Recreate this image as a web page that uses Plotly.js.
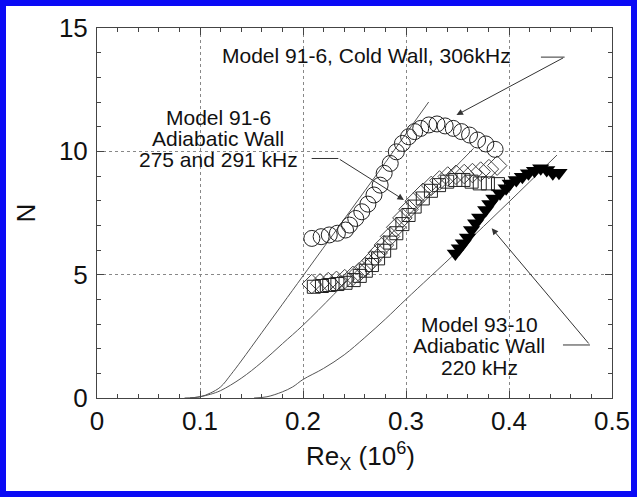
<!DOCTYPE html>
<html><head><meta charset="utf-8">
<script src="https://cdn.plot.ly/plotly-3.0.1.min.js"></script>
<style>
body{margin:0;background:#fff}
#wrap{position:relative;width:637px;height:497px}
#chart{width:637px;height:497px}
#frame{position:absolute;left:0;top:0;width:637px;height:497px;box-sizing:border-box;border:6px solid #0a0af5;pointer-events:none}
</style>
</head><body>
<div id="wrap"><div id="chart"></div><div id="frame"></div></div>
<script>
// Model 91-6 cold wall, 306 kHz (open circles)
const coldX = [0.2086,0.2176,0.2255,0.2334,0.2413,0.2452,0.2512,0.2571,0.2630,0.2689,0.2749,0.2788,0.2847,0.2906,0.2965,0.3025,0.3084,0.3143,0.3222,0.3301,0.3380,0.3459,0.3538,0.3617,0.3695,0.3775,0.3865];
const coldN = [6.47,6.54,6.61,6.68,6.81,7.01,7.28,7.55,7.86,8.23,8.63,9.11,9.51,9.98,10.32,10.59,10.80,10.93,11.07,11.11,11.03,10.93,10.80,10.66,10.46,10.30,10.08];

// Model 91-6 adiabatic wall (open squares)
const squareX = [0.2105,0.2184,0.2255,0.2334,0.2413,0.2492,0.2551,0.2610,0.2669,0.2729,0.2788,0.2847,0.2906,0.2965,0.3025,0.3084,0.3163,0.3242,0.3321,0.3400,0.3479,0.3558,0.3637,0.3716,0.3795,0.3893];
const squareN = [4.51,4.54,4.58,4.62,4.67,4.78,4.95,5.16,5.39,5.66,5.97,6.30,6.68,7.05,7.42,7.76,8.09,8.40,8.63,8.77,8.84,8.84,8.77,8.70,8.70,8.67];

// Model 91-6 adiabatic wall (open diamonds)
const diamondX = [0.2085,0.2165,0.2245,0.2325,0.2405,0.2485,0.2545,0.2605,0.2665,0.2725,0.2785,0.2845,0.2905,0.2965,0.3025,0.3085,0.3165,0.3245,0.3325,0.3405,0.3485,0.3565,0.3645,0.3725,0.3805,0.3885];
const diamondN = [4.62,4.65,4.70,4.75,4.82,4.95,5.10,5.32,5.58,5.88,6.20,6.55,6.92,7.30,7.65,7.98,8.32,8.60,8.82,8.98,9.05,9.08,9.12,9.18,9.28,9.42];

// Model 93-10 adiabatic wall, 220 kHz (filled down triangles)
const triX = [0.3479,0.3518,0.3557,0.3597,0.3636,0.3676,0.3715,0.3774,0.3814,0.3853,0.3913,0.3972,0.4011,0.4071,0.4130,0.4189,0.4248,0.4308,0.4366,0.4425,0.4485];
const triN = [5.86,6.07,6.27,6.51,6.81,7.08,7.32,7.62,7.86,8.09,8.30,8.50,8.70,8.84,8.97,9.11,9.21,9.31,9.24,9.11,9.13];

// Theory curves (thin lines)
const theoryAX = [0.085,0.100,0.110,0.120,0.130,0.140,0.160,0.180,0.200,0.240,0.280,0.322];
const theoryAN = [0.00,0.05,0.20,0.45,0.95,1.50,2.65,3.80,4.95,7.25,9.55,12.00];
const theoryBX = [0.090,0.100,0.110,0.120,0.140,0.160,0.180,0.200,0.230,0.260,0.300,0.3656];
const theoryBN = [0.00,0.05,0.15,0.30,0.80,1.45,2.20,2.95,4.20,5.50,7.30,10.12];
const theoryCX = [0.1525,0.165,0.180,0.190,0.200,0.220,0.240,0.260,0.280,0.300,0.350,0.400,0.4466];
const theoryCN = [0.00,0.05,0.25,0.45,0.75,1.20,1.75,2.45,3.20,4.00,5.95,7.95,9.85];

// Labels: [text, x, N]
const labelLines = [
  ["Model 91-6, Cold Wall, 306kHz", 0.262, 13.9],
  ["Model 91-6", 0.1175, 11.39],
  ["Adiabatic Wall", 0.1175, 10.52],
  ["275 and 291 kHz", 0.1175, 9.65],
  ["Model 93-10", 0.371, 2.99],
  ["Adiabatic Wall", 0.371, 2.12],
  ["220 kHz", 0.371, 1.25]
];
// Leaders: [tailStartX, tailEndX, tailN, tipX, tipN]
const leaders = [
  [0.431, 0.454, 13.82, 0.349, 11.47],
  [0.2084, 0.2343, 9.71, 0.298, 8.03],
  [0.4524, 0.4786, 2.15, 0.3832, 6.88]
];
const xTitle = 'Re<sub>X</sub> (10<sup>6</sup>)';
const yTitle = 'N';

const FONT = 'Liberation Sans, Arial, Helvetica, sans-serif';
const lineStyle = {color:'#555', width:1, shape:'spline', smoothing:1};
const traces = [
  {x:theoryAX, y:theoryAN, mode:'lines', line:lineStyle},
  {x:theoryBX, y:theoryBN, mode:'lines', line:lineStyle},
  {x:theoryCX, y:theoryCN, mode:'lines', line:lineStyle},
  {x:diamondX, y:diamondN, mode:'markers', marker:{symbol:'diamond-open', size:15, color:'#444', line:{width:1}}},
  {x:squareX, y:squareN, mode:'markers', marker:{symbol:'square-open', size:13, color:'#222', line:{width:1}}},
  {x:coldX, y:coldN, mode:'markers', marker:{symbol:'circle-open', size:16, color:'#222', line:{width:1}}},
  {x:triX, y:triN, mode:'markers', marker:{symbol:'triangle-down', size:15, color:'#000'}}
];

const annotations = labelLines.map(l => ({
  text:l[0], x:l[1], y:l[2], xref:'x', yref:'y', showarrow:false,
  xanchor:'center', yanchor:'middle', font:{family:FONT, size:21, color:'#111'}
}));
// x-axis title placed as text just under the tick labels
annotations.push({text:xTitle, x:0.256, y:-0.104, xref:'x', yref:'paper', showarrow:false,
  xanchor:'center', yanchor:'top', font:{family:FONT, size:26, color:'#111'}});
const shapes = [];
leaders.forEach(d => {
  shapes.push({type:'line', xref:'x', yref:'y', x0:d[0], x1:d[1], y0:d[2], y1:d[2], line:{color:'#333', width:1}});
  annotations.push({text:'', x:d[3], y:d[4], ax:d[1], ay:d[2], xref:'x', yref:'y', axref:'x', ayref:'y',
    showarrow:true, arrowhead:2, arrowsize:1.3, arrowwidth:1, arrowcolor:'#333', standoff:0, startstandoff:0});
});

const axisCommon = {
  showline:true, linecolor:'#444', linewidth:1, mirror:'ticks',
  ticks:'inside', ticklen:7, tickcolor:'#444', tickwidth:1,
  showgrid:true, gridcolor:'#888', griddash:'dot', gridwidth:1, zeroline:false,
  tickfont:{family:FONT, size:26, color:'#111'}
};
const layout = {
  width:637, height:497,
  margin:{l:97, r:25, t:28, b:99},
  paper_bgcolor:'#fff', plot_bgcolor:'#fff', showlegend:false,
  xaxis:Object.assign({}, axisCommon, {range:[0,0.5], dtick:0.1, tick0:0,
    minor:{dtick:0.02, ticks:'inside', ticklen:4, tickcolor:'#444', showgrid:false}}),
  yaxis:Object.assign({}, axisCommon, {range:[0,15], dtick:5, tick0:0, ticklabelstandoff:3,
    minor:{dtick:1, ticks:'inside', ticklen:4, tickcolor:'#444', showgrid:false},
    title:{text:yTitle, font:{family:FONT, size:26, color:'#111'}, standoff:15}}),
  annotations:annotations, shapes:shapes
};
Plotly.newPlot('chart', traces, layout, {staticPlot:true});
</script>
</body></html>
